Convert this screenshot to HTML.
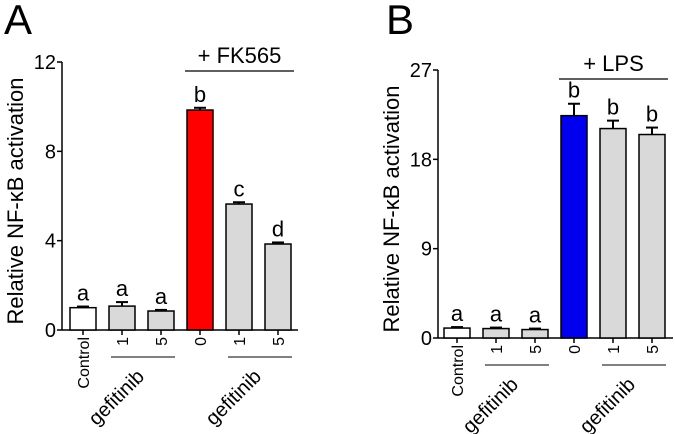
<!DOCTYPE html>
<html><head><meta charset="utf-8"><style>
body{margin:0;background:#fff;}
svg{display:block;font-family:"Liberation Sans",Arial,sans-serif;}
</style></head><body>
<svg id="c" width="675" height="434" viewBox="0 0 675 434"></svg>
<script>
const categories=["Control","1","5","0","1","5"];
const valuesA=[1.0,1.07,0.85,9.85,5.64,3.85];
const errorsA=[0.05,0.18,0.05,0.1,0.08,0.07];
const lettersA=["a","a","a","b","c","d"];
const ticksA=[0,4,8,12];
const valuesB=[1.0,0.95,0.85,22.4,21.1,20.5];
const errorsB=[0.1,0.1,0.1,1.2,0.8,0.7];
const lettersB=["a","a","a","b","b","b"];
const ticksB=[0,9,18,27];
const NS="http://www.w3.org/2000/svg";
const svg=document.getElementById('c');
function mk(t,a,p){const e=document.createElementNS(NS,t);for(const k in a)e.setAttribute(k,a[k]);(p||svg).appendChild(e);return e;}
function panel(cfg){
  const g=mk('g',{});
  
  
  const y=v=>cfg.y0-(v/cfg.max)*(cfg.y0-cfg.yTop);
  const x=i=>cfg.x0+i*39;
  const L=mk('text',{x:cfg.lx,y:34,'font-size':42},g);L.textContent=cfg.label;
  
  const t=mk('text',{transform:`translate(${cfg.ax-39},${(cfg.y0+cfg.yTop)/2+5}) rotate(-90)`,'text-anchor':'middle','font-size':22},g);
  t.textContent='Relative NF-κB activation';
  
  const ya=mk('line',{x1:cfg.ax,y1:cfg.yTop,x2:cfg.ax,y2:cfg.y0,stroke:'#000','stroke-width':1.5},g);
  
  const xa=mk('line',{x1:cfg.ax,y1:cfg.y0,x2:cfg.xEnd,y2:cfg.y0,stroke:'#000','stroke-width':1.5},g);
  
  cfg.ticks.forEach(v=>{
    mk('line',{x1:cfg.ax-5,y1:y(v),x2:cfg.ax,y2:y(v),stroke:'#000','stroke-width':1.5},g);
    const tl=mk('text',{x:cfg.ax-6,y:y(v)+7,'text-anchor':'end','font-size':20},g);tl.textContent=v;
    
  });
  cfg.vals.forEach((v,i)=>{
    const cx=x(i);
    const fill=i==0?'#fff':(i==3?cfg.color:'#d9d9d9');
    mk('line',{x1:cx,y1:y(v),x2:cx,y2:y(v+cfg.err[i]),stroke:'#000','stroke-width':2},g);
    mk('line',{x1:cx-6,y1:y(v+cfg.err[i]),x2:cx+6,y2:y(v+cfg.err[i]),stroke:'#000','stroke-width':2},g);
    const r=mk('rect',{x:cx-13,y:y(v),width:26,height:cfg.y0-y(v),fill:fill,stroke:'#000','stroke-width':1.5},g);
    
    const lt=mk('text',{x:cx,y:y(v+cfg.err[i])-6,'text-anchor':'middle','font-size':22},g);lt.textContent=cfg.letters[i];
    
    mk('line',{x1:cx,y1:cfg.y0,x2:cx,y2:cfg.y0+5,stroke:'#000','stroke-width':1.5},g);
    const cl=mk('text',{transform:`translate(${cx+6},${cfg.y0+7}) rotate(-90)`,'text-anchor':'end','font-size':16},g);cl.textContent=categories[i];
    
  });
  [[1,2],[4,5]].forEach(p=>{
    const a=x(p[0])-11,b=x(p[1])+14;
    mk('line',{x1:a,y1:cfg.y0+27,x2:b,y2:cfg.y0+27,stroke:'#000','stroke-width':1},g);
    const gt=mk('text',{transform:`translate(${(a+b)/2-22},${cfg.y0+72}) rotate(-45)`,'text-anchor':'middle','font-size':20},g);gt.textContent='gefitinib';
    
  });
  const a=x(3)-15,b=x(5)+16;
  mk('line',{x1:a,y1:cfg.yTop+9,x2:b,y2:cfg.yTop+9,stroke:'#000','stroke-width':1.3},g);
  const st=mk('text',{x:(a+b)/2,y:cfg.yTop+1,'text-anchor':'middle','font-size':22},g);st.textContent=cfg.stim;
  
}
panel({name:'panel-a',label:'A',lx:4,ax:62,x0:83,yTop:62,y0:330,xEnd:298,max:12,ticks:ticksA,vals:valuesA,err:errorsA,letters:lettersA,color:'#ff0000',stim:'+ FK565'});
panel({name:'panel-b',label:'B',lx:386,ax:438,x0:457,yTop:70,y0:338,xEnd:673,max:27,ticks:ticksB,vals:valuesB,err:errorsB,letters:lettersB,color:'#0000ee',stim:'+ LPS'});
</script>
</body></html>
